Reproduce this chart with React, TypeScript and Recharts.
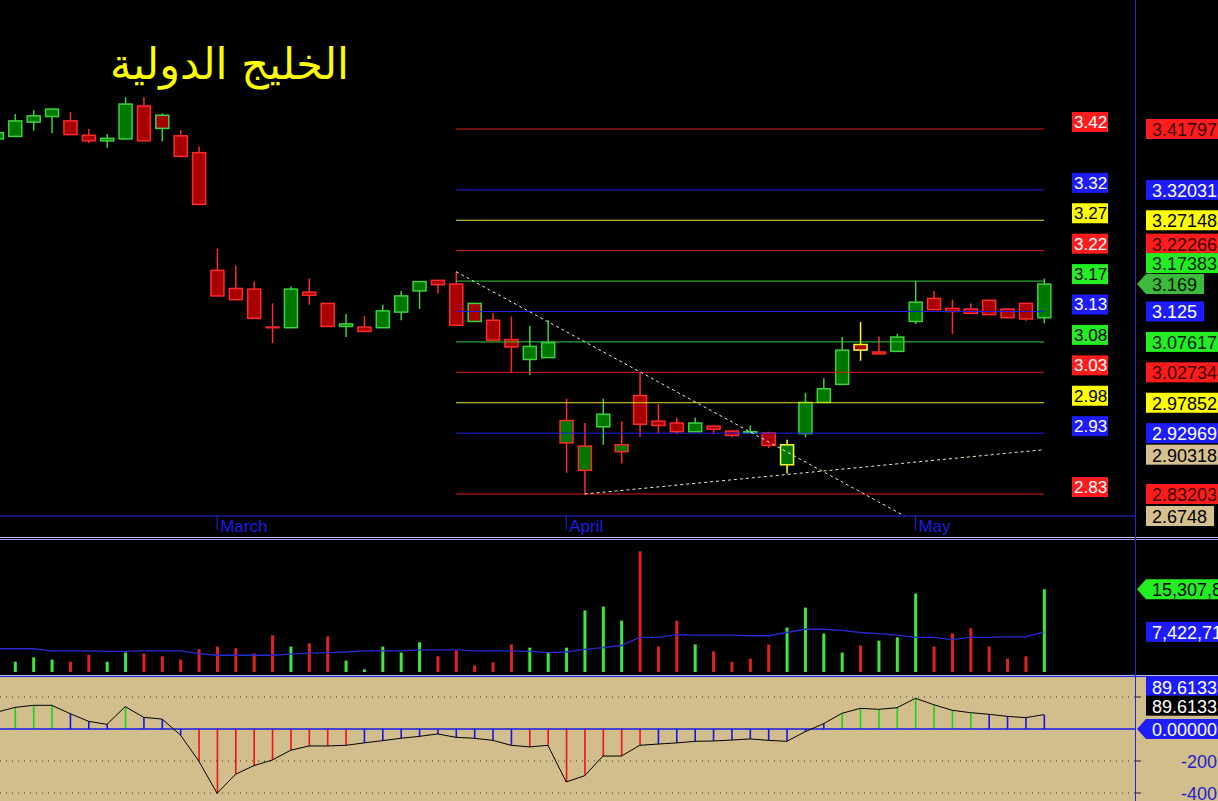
import React from 'react';
import { ComposedChart, Bar, Line, XAxis, YAxis, ReferenceLine, Cell } from 'recharts';

// daily candles, index 0 is the half-hidden one at the left edge
const OPEN = [3.402, 3.406, 3.429, 3.438, 3.431, 3.408, 3.399, 3.402, 3.455, 3.44, 3.407, 3.38, 3.191, 3.162, 3.161, 3.1, 3.099, 3.156, 3.138, 3.101, 3.1, 3.099, 3.124, 3.158, 3.175, 3.169, 3.138, 3.111, 3.08, 3.048, 3.051, 2.914, 2.87, 2.94, 2.9, 2.99, 2.949, 2.946, 2.932, 2.941, 2.933, 2.93, 2.93, 2.879, 2.929, 2.979, 3.008, 3.072, 3.06, 3.061, 3.109, 3.146, 3.13, 3.129, 3.143, 3.129, 3.138, 3.115];
const HIGH = [3.416, 3.442, 3.448, 3.45, 3.445, 3.418, 3.41, 3.469, 3.469, 3.443, 3.416, 3.39, 3.226, 3.199, 3.173, 3.138, 3.165, 3.178, 3.138, 3.121, 3.118, 3.136, 3.158, 3.173, 3.175, 3.189, 3.138, 3.122, 3.117, 3.102, 3.111, 2.985, 2.946, 2.985, 2.949, 3.027, 2.976, 2.955, 2.955, 2.941, 2.933, 2.942, 2.932, 2.919, 2.994, 3.018, 3.084, 3.108, 3.085, 3.089, 3.174, 3.158, 3.144, 3.138, 3.143, 3.129, 3.138, 3.178];
const LOW = [3.4, 3.405, 3.415, 3.411, 3.409, 3.395, 3.388, 3.402, 3.399, 3.398, 3.374, 3.297, 3.149, 3.144, 3.114, 3.074, 3.099, 3.136, 3.101, 3.084, 3.093, 3.099, 3.111, 3.129, 3.154, 3.103, 3.109, 3.079, 3.026, 3.023, 3.051, 2.866, 2.832, 2.911, 2.881, 2.924, 2.93, 2.928, 2.932, 2.928, 2.923, 2.93, 2.906, 2.865, 2.923, 2.979, 3.008, 3.046, 3.057, 3.061, 3.105, 3.128, 3.089, 3.122, 3.12, 3.115, 3.11, 3.106];
const CLOSE = [3.412, 3.431, 3.439, 3.45, 3.409, 3.399, 3.403, 3.458, 3.399, 3.419, 3.374, 3.297, 3.15, 3.144, 3.114, 3.099, 3.161, 3.151, 3.101, 3.105, 3.093, 3.126, 3.15, 3.173, 3.168, 3.103, 3.109, 3.079, 3.068, 3.069, 3.075, 2.95, 2.909, 2.96, 2.911, 2.944, 2.942, 2.932, 2.946, 2.936, 2.926, 2.932, 2.91, 2.911, 2.979, 3.001, 3.063, 3.063, 3.057, 3.084, 3.14, 3.128, 3.125, 3.122, 3.12, 3.115, 3.113, 3.169];
// outline colour vs previous close: u up, d down, f unchanged
const EDGE = ['u', 'u', 'u', 'u', 'd', 'd', 'u', 'u', 'd', 'u', 'd', 'd', 'd', 'd', 'd', 'd', 'u', 'd', 'd', 'u', 'd', 'u', 'u', 'u', 'd', 'd', 'u', 'd', 'd', 'u', 'u', 'd', 'd', 'u', 'd', 'd', 'd', 'd', 'u', 'd', 'd', 'u', 'd', 'f', 'u', 'u', 'u', 'f', 'd', 'u', 'u', 'd', 'd', 'd', 'd', 'd', 'd', 'u'];

// volume in millions
const VOLUME = [2.0, 1.9, 2.7, 2.3, 1.9, 3.2, 1.9, 3.6, 3.4, 2.9, 2.3, 4.2, 4.7, 4.4, 3.4, 6.8, 4.7, 5.3, 6.6, 2.1, 0.5, 4.7, 3.6, 5.5, 2.9, 4.0, 1.2, 1.8, 5.1, 4.5, 3.6, 4.5, 11.4, 12.1, 9.5, 22.3, 4.7, 9.5, 5.1, 3.8, 1.9, 2.5, 5.1, 8.2, 11.9, 7.1, 3.6, 4.9, 5.8, 6.4, 14.5, 4.7, 7.1, 8.1, 4.7, 2.5, 2.9, 15.307812];
const VOLUME_TONE = ['u', 'u', 'u', 'u', 'd', 'd', 'u', 'u', 'd', 'd', 'd', 'd', 'd', 'd', 'd', 'd', 'u', 'd', 'd', 'u', 'u', 'u', 'u', 'u', 'd', 'd', 'd', 'd', 'd', 'u', 'u', 'u', 'u', 'u', 'u', 'd', 'd', 'd', 'u', 'd', 'd', 'd', 'd', 'u', 'u', 'u', 'u', 'd', 'u', 'u', 'u', 'd', 'd', 'd', 'd', 'd', 'd', 'u'];
const VOLUME_AVG = [4.3, 4.3, 4.3, 3.9, 3.9, 3.9, 3.8, 3.8, 3.9, 3.9, 3.9, 3.4, 3.1, 3.1, 3.1, 3.1, 3.3, 3.5, 3.6, 3.7, 3.9, 3.9, 3.9, 4.1, 4.1, 4.1, 3.9, 3.9, 3.9, 3.8, 3.6, 3.7, 4.2, 4.5, 4.9, 6.4, 6.4, 6.9, 6.8, 6.8, 6.8, 6.7, 6.7, 7.3, 7.9, 7.9, 7.7, 7.3, 7.1, 6.8, 6.4, 6.4, 6.0, 6.4, 6.4, 6.5, 6.5, 7.422716];

// oscillator
const OSC = [105, 135, 148, 148, 96, 48, 29, 140, 73, 62, -37, -200, -402, -283, -229, -194, -133, -106, -106, -102, -87, -73, -58, -46, -31, -52, -58, -71, -102, -112, -102, -331, -292, -169, -169, -102, -94, -87, -77, -75, -69, -62, -71, -77, -17, 33, 98, 129, 123, 133, 192, 152, 117, 102, 92, 79, 71, 89.6133];
const OSC_TONE = ['g', 'g', 'g', 'g', 'b', 'b', 'b', 'g', 'b', 'b', 'b', 'r', 'r', 'r', 'r', 'r', 'r', 'r', 'r', 'r', 'b', 'b', 'b', 'b', 'b', 'b', 'b', 'b', 'b', 'r', 'r', 'r', 'r', 'r', 'r', 'r', 'b', 'b', 'b', 'b', 'b', 'b', 'b', 'b', 'b', 'b', 'g', 'g', 'g', 'g', 'g', 'g', 'g', 'g', 'b', 'b', 'b', 'b'];

const MONTH_AT = [12, 31, 50];
const MONTH_NAMES = ['March', 'April', 'May'];

// fibonacci levels drawn from candle 25 to the last candle
const FIB_FROM = 25;
const FIB_TO = 57;
const FIB_LEVELS = [3.41797, 3.32031, 3.27148, 3.22266, 3.17383, 3.125, 3.07617, 3.02734, 2.97852, 2.92969, 2.83203];
const FIB_TEXT = ['3.42', '3.32', '3.27', '3.22', '3.17', '3.13', '3.08', '3.03', '2.98', '2.93', '2.83'];
const FIB_TONE = ['red', 'blue', 'yellow', 'red', 'green', 'blue', 'green', 'red', 'yellow', 'blue', 'red'];

const TREND_DOWN = [{ x: 25, y: 3.189 }, { x: 57, y: 2.6748 }];
const TREND_UP = [{ x: 32, y: 2.832 }, { x: 57, y: 2.90318 }];

const PRICE_TAGS = [3.41797, 3.32031, 3.27148, 3.22266, 3.17383, 3.169, 3.125, 3.07617, 3.02734, 2.97852, 2.92969, 2.90318, 2.83203, 2.6748];
const PRICE_TAG_TONE = ['red', 'blue', 'yellow', 'red', 'green', 'last', 'blue', 'green', 'red', 'yellow', 'blue', 'tan', 'red', 'tan'];
const OSC_LAST = 89.6133;
const OSC_TICKS = [OSC_LAST, 0, -200, -400, 200];

const TITLE = 'الخليج الدولية';

// ---- layout / styles ----
const FONT = '"Liberation Sans", Arial, sans-serif';
const W = 1218;
const AXIS_W = 83;
const PLOT_W = W - AXIS_W;
const STEP = 18.375;
const X0 = -3.375;
const X_DOMAIN = [(0 - X0) / STEP, (PLOT_W - X0) / STEP];
const PRICE_PLOT_H = 516;
const PX_PER_UNIT = 622.93;
const Y_DOMAIN = [3.41797 - (PRICE_PLOT_H - 129) / PX_PER_UNIT, 3.41797 + 129 / PX_PER_UNIT];
const PRICE_TAG_SHIFT = [0, 0, 0, -7, -18, 0, 0, 0, 0, 0, 0, 5, 0, 0];

const AXIS_BLUE = '#2424e0';
const TAN = '#d2bd8c';
const FIB_LINE: Record<string, string> = { red: '#e01a1a', blue: '#2020e6', yellow: '#e6e622', green: '#34d034' };
const TAG_BG: Record<string, string> = { red: '#ff1c1c', blue: '#1c1cff', yellow: '#ffff00', green: '#22ee22', last: '#3cba3c', tan: '#d6c08f', black: '#000' };
const TAG_FG: Record<string, string> = { red: '#3c0000', blue: '#fff', yellow: '#000', green: '#002000', last: '#001800', tan: '#000', black: '#fff' };
const FIB_FG: Record<string, string> = { red: '#fff', blue: '#fff', yellow: '#000', green: '#000' };
const EDGE_COLOR: Record<string, string> = { u: '#3cd23c', d: '#ff2a2a', f: '#ffff30' };
const UP_FILL = '#007800';
const DOWN_FILL = '#a80000';
const VOL_COLOR: Record<string, string> = { u: '#3ee63e', d: '#e02222' };
const OSC_COLOR: Record<string, string> = { g: '#18d418', b: '#1414e6', r: '#ee1414' };

const rows = OPEN.map((o, i) => ({
  i,
  o,
  h: HIGH[i],
  l: LOW[i],
  c: CLOSE[i],
  edge: EDGE[i],
  range: [LOW[i], HIGH[i]],
  vol: VOLUME[i],
  volAvg: VOLUME_AVG[i],
  osc: OSC[i],
}));

const textW = (s: string, fs: number) =>
  s.split('').reduce((w, ch) => w + (/[0-9]/.test(ch) ? 0.556 : ch === '-' ? 0.333 : 0.278) * fs, 0);

function Tag({ x, y, text, bg, fg, arrow }: any) {
  const left = x + 11;
  const w = textW(text, 18) + 13;
  const top = y - 10;
  return (
    <g>
      {arrow ? (
        <path d={`M${x + 2},${y} L${left},${top} L${left + w},${top} L${left + w},${top + 20} L${left},${top + 20} Z`} fill={bg} />
      ) : (
        <rect x={left} y={top} width={w} height={20} fill={bg} />
      )}
      <text x={left + 6} y={y + 7} fill={fg} fontSize={18} fontFamily={FONT}>{text}</text>
    </g>
  );
}

const Candle = (props: any) => {
  const { x, y, width, height, payload } = props;
  if (x == null || !payload) return null;
  const { o, h, l, c, edge } = payload;
  const k = h > l ? height / (h - l) : 0;
  const py = (v: number) => y + (h - v) * k;
  const cx = x + width / 2;
  const top = py(Math.max(o, c));
  const bot = py(Math.min(o, c));
  const stroke = EDGE_COLOR[edge];
  return (
    <g>
      <line x1={cx} x2={cx} y1={y} y2={y + height} stroke={stroke} strokeWidth={1.5} />
      <rect x={cx - 6.5} y={top} width={13} height={Math.max(bot - top, 0.5)} fill={c >= o ? UP_FILL : DOWN_FILL} stroke={stroke} strokeWidth={1.5} />
    </g>
  );
};

const OscStick = (props: any) => {
  const { x, y, width, height, index } = props;
  if (x == null) return null;
  const cx = x + width / 2;
  return (
    <line x1={cx} x2={cx} y1={y} y2={y + height} stroke={OSC_COLOR[OSC_TONE[index]] || OSC_COLOR.b} strokeWidth={1.6} />
  );
};

const MonthTick = ({ x, y, payload }: any) => {
  const k = MONTH_AT.indexOf(payload.value);
  if (k < 0) return null;
  return (
    <g>
      <line x1={x} x2={x} y1={y} y2={y + 14} stroke={AXIS_BLUE} />
      <text x={x + 3} y={y + 16} fill="#1c1ce6" fontSize={17} fontFamily={FONT}>{MONTH_NAMES[k]}</text>
    </g>
  );
};

const PriceTag = ({ x, y, payload }: any) => {
  const k = PRICE_TAGS.indexOf(payload.value);
  if (k < 0) return null;
  const tone = PRICE_TAG_TONE[k];
  const cy = Math.min(y + PRICE_TAG_SHIFT[k], PRICE_PLOT_H);
  return <Tag x={x} y={cy} text={String(PRICE_TAGS[k])} bg={TAG_BG[tone]} fg={TAG_FG[tone]} arrow={tone === 'last'} />;
};

const VolumeTag = ({ x, y, payload }: any) => {
  const last = payload.value === VOLUME[VOLUME.length - 1];
  const text = Math.round(payload.value * 1e6).toLocaleString('en-US');
  return last
    ? <Tag x={x} y={y} text={text} bg={TAG_BG.green} fg="#000" arrow />
    : <Tag x={x} y={y} text={text} bg={TAG_BG.blue} fg="#fff" />;
};

const OscTag = ({ x, y, payload }: any) => {
  const v = payload.value;
  if (v === OSC_LAST) {
    return (
      <g>
        <Tag x={x} y={y - 28} text={String(v)} bg={TAG_BG.blue} fg="#fff" />
        <Tag x={x} y={y - 9} text={String(v)} bg={TAG_BG.black} fg="#fff" />
      </g>
    );
  }
  if (v === 0) return <Tag x={x} y={y} text={v.toFixed(5)} bg={TAG_BG.blue} fg="#fff" arrow />;
  return (
    <g>
      <line x1={x} x2={x + 6} y1={y} y2={y} stroke="#222" />
      {v !== 200 && (
        <text x={x + 82} y={y + 7} textAnchor="end" fill="#2020c8" fontSize={18} fontFamily={FONT}>{v}</text>
      )}
    </g>
  );
};

const FibTag = ({ viewBox, text, tone }: any) => {
  if (!viewBox) return null;
  const left = viewBox.x + viewBox.width + 28;
  return (
    <g>
      <rect x={left} y={viewBox.y - 17} width={36} height={20} fill={TAG_BG[tone]} />
      <text x={left + 2} y={viewBox.y - 1} fill={FIB_FG[tone]} fontSize={17} fontFamily={FONT}>{text}</text>
    </g>
  );
};

export default function App() {
  return (
    <div style={{ position: 'absolute', left: 0, top: 0, width: W, height: 801, background: '#000', overflow: 'hidden' }}>
      <div style={{ position: 'absolute', left: 0, top: 0 }}>
        <ComposedChart width={W} height={537} data={rows} margin={{ top: 0, right: 0, bottom: 0, left: 0 }}>
          <XAxis
            type="number"
            dataKey="i"
            domain={X_DOMAIN}
            allowDataOverflow
            ticks={MONTH_AT}
            interval={0}
            tick={<MonthTick />}
            tickLine={false}
            tickSize={0}
            tickMargin={0}
            height={21}
            axisLine={{ stroke: AXIS_BLUE }}
          />
          <YAxis
            type="number"
            orientation="right"
            width={AXIS_W}
            domain={Y_DOMAIN}
            allowDataOverflow
            ticks={PRICE_TAGS}
            interval={0}
            tick={<PriceTag />}
            tickLine={false}
            tickSize={0}
            tickMargin={0}
            axisLine={false}
          />
          {FIB_LEVELS.map((v, k) => (
            <ReferenceLine
              key={`fib-${k}`}
              segment={[{ x: FIB_FROM, y: v }, { x: FIB_TO, y: v }]}
              stroke={FIB_LINE[FIB_TONE[k]]}
              strokeWidth={1}
              label={(p: any) => <FibTag viewBox={p.viewBox} text={FIB_TEXT[k]} tone={FIB_TONE[k]} />}
            />
          ))}
          <ReferenceLine segment={TREND_DOWN} stroke="#ecebcf" strokeDasharray="3 3" ifOverflow="hidden" />
          <ReferenceLine segment={TREND_UP} stroke="#ecebcf" strokeDasharray="3 3" ifOverflow="hidden" />
          <Bar dataKey="range" barSize={13} shape={<Candle />} isAnimationActive={false} />
        </ComposedChart>
      </div>

      <div style={{ position: 'absolute', left: 0, top: 540 }}>
        <ComposedChart width={W} height={132} data={rows} margin={{ top: 0, right: 0, bottom: 0, left: 0 }}>
          <XAxis type="number" dataKey="i" domain={X_DOMAIN} allowDataOverflow hide />
          <YAxis
            type="number"
            orientation="right"
            width={AXIS_W}
            domain={[0, 24.4]}
            ticks={[VOLUME[VOLUME.length - 1], VOLUME_AVG[VOLUME_AVG.length - 1]]}
            interval={0}
            tick={<VolumeTag />}
            tickLine={false}
            tickSize={0}
            tickMargin={0}
            axisLine={false}
          />
          <Bar dataKey="vol" barSize={3} isAnimationActive={false}>
            {rows.map((r, k) => (
              <Cell key={`v-${k}`} fill={VOL_COLOR[VOLUME_TONE[k]]} />
            ))}
          </Bar>
          <Line dataKey="volAvg" type="linear" stroke="#2a2ad2" strokeWidth={1.3} dot={false} isAnimationActive={false} />
        </ComposedChart>
      </div>

      <div style={{ position: 'absolute', left: 0, top: 677, width: W, height: 124, background: TAN }}>
        <ComposedChart width={W} height={124} data={rows} margin={{ top: 0, right: 0, bottom: 0, left: 0 }}>
          <XAxis type="number" dataKey="i" domain={X_DOMAIN} allowDataOverflow hide />
          <YAxis
            type="number"
            orientation="right"
            width={AXIS_W}
            domain={[-450, 325]}
            ticks={OSC_TICKS}
            interval={0}
            tick={<OscTag />}
            tickLine={false}
            tickSize={0}
            tickMargin={0}
            axisLine={false}
          />
          {[200, -200, -400].map((v) => (
            <ReferenceLine key={`g-${v}`} y={v} stroke="#3a3426" strokeDasharray="1 5" />
          ))}
          <Bar dataKey="osc" barSize={1} shape={<OscStick />} isAnimationActive={false} />
          <ReferenceLine y={0} stroke="#1818e6" strokeWidth={1.5} />
          <Line dataKey="osc" type="linear" stroke="#000" strokeWidth={1} dot={false} isAnimationActive={false} />
        </ComposedChart>
      </div>

      <svg width={W} height={801} style={{ position: 'absolute', left: 0, top: 0, pointerEvents: 'none' }}>
        <line x1={0} x2={W} y1={537.5} y2={537.5} stroke="#c4c4ff" />
        <line x1={0} x2={W} y1={539.5} y2={539.5} stroke="#9a9aff" />
        <line x1={0} x2={W} y1={675.5} y2={675.5} stroke="#b4b4f4" />
        <line x1={0} x2={W} y1={676.5} y2={676.5} stroke={AXIS_BLUE} />
        <line x1={PLOT_W + 0.5} x2={PLOT_W + 0.5} y1={0} y2={801} stroke={AXIS_BLUE} />
        <text x={110} y={79} fill="#ffff00" fontSize={43} fontFamily='"DejaVu Sans", sans-serif'>{TITLE}</text>
      </svg>
    </div>
  );
}
